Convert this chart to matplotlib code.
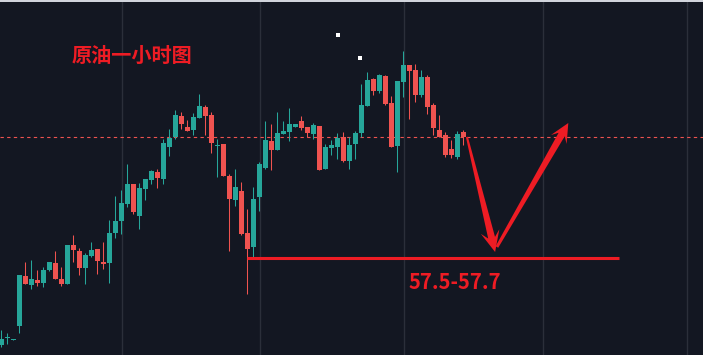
import numpy as np
import matplotlib
matplotlib.use('Agg')
import matplotlib.pyplot as plt
from matplotlib.patches import Polygon, Rectangle
from matplotlib.transforms import IdentityTransform

# 1h crude oil candles (prices)
opens = [56.73, 56.80, 56.78, 56.92, 57.42, 57.33, 57.38, 57.35, 57.48, 57.55,
         57.39, 57.34, 57.73, 57.67, 57.50, 57.62, 57.69, 57.56, 57.55, 57.85,
         57.97, 58.14, 58.34, 58.02, 58.29, 58.38, 58.46, 58.39, 58.71, 58.81,
         59.02, 58.91, 58.88, 59.00, 59.11, 59.03, 58.72, 58.74, 58.42, 58.18,
         58.27, 57.85, 57.71, 58.21, 58.50, 58.77, 58.68, 58.84, 58.86, 58.91,
         58.97, 58.91, 58.84, 58.92, 58.49, 58.70, 58.71, 58.81, 58.57, 58.74,
         58.85, 59.12, 59.39, 59.27, 59.42, 59.15, 58.72, 59.36, 59.53, 59.48,
         59.23, 59.41, 59.13, 58.88, 58.83, 58.69, 58.61, 58.86]
closes = [56.79, 56.80, 56.79, 57.43, 57.34, 57.39, 57.35, 57.48, 57.56, 57.39,
          57.34, 57.73, 57.68, 57.50, 57.63, 57.68, 57.57, 57.54, 57.85, 57.97,
          58.15, 58.34, 58.06, 58.30, 58.39, 58.47, 58.40, 58.75, 58.80, 59.03,
          58.94, 58.87, 59.01, 59.12, 59.02, 58.75, 58.73, 58.42, 58.19, 58.31,
          57.84, 57.69, 58.19, 58.54, 58.78, 58.68, 58.85, 58.87, 58.94, 58.94,
          58.90, 58.85, 58.93, 58.48, 58.71, 58.73, 58.80, 58.57, 58.73, 58.85,
          59.13, 59.38, 59.27, 59.43, 59.14, 58.71, 59.37, 59.53, 59.47, 59.23,
          59.41, 59.11, 58.90, 58.81, 58.63, 58.63, 58.84, 58.81]
highs = [56.88, 56.85, 56.79, 57.43, 57.56, 57.58, 57.48, 57.51, 57.56, 57.67,
         57.51, 57.73, 57.83, 57.70, 57.65, 57.76, 57.69, 57.76, 57.98, 58.22,
         58.28, 58.54, 58.34, 58.35, 58.39, 58.48, 58.49, 58.79, 58.89, 59.08,
         59.06, 58.98, 59.05, 59.24, 59.13, 59.06, 58.79, 58.74, 58.44, 58.49,
         58.36, 58.09, 58.31, 58.56, 58.97, 58.94, 59.06, 58.97, 59.10, 58.94,
         59.02, 58.91, 58.95, 58.92, 58.74, 58.78, 58.85, 58.86, 58.81, 58.87,
         59.34, 59.46, 59.40, 59.44, 59.43, 59.22, 59.37, 59.67, 59.53, 59.54,
         59.48, 59.43, 59.15, 59.03, 58.86, 58.78, 58.87, 58.88]
lows = [56.71, 56.74, 56.78, 56.85, 57.34, 57.29, 57.32, 57.31, 57.47, 57.39,
        57.32, 57.34, 57.56, 57.43, 57.34, 57.61, 57.44, 57.49, 57.35, 57.80,
        57.84, 58.11, 58.04, 57.89, 58.18, 58.34, 58.30, 58.34, 58.62, 58.79,
        58.89, 58.87, 58.83, 59.00, 58.83, 58.65, 58.41, 58.42, 57.67, 58.12,
        57.83, 57.24, 57.61, 58.07, 58.49, 58.48, 58.68, 58.84, 58.77, 58.91,
        58.88, 58.81, 58.79, 58.48, 58.49, 58.63, 58.59, 58.56, 58.49, 58.59,
        58.81, 59.12, 59.23, 59.25, 59.13, 58.71, 58.46, 59.21, 58.99, 59.16,
        59.21, 59.04, 58.83, 58.81, 58.61, 58.60, 58.59, 58.73]

# annotations
title = '原油一小时图'
target_label = '57.5-57.7'
target_price = 57.6
target_from, target_to = 41, 103
day_breaks = [20.1, 43.1, 67.1, 90.3, 114.3]
dots_x = [56.1, 59.8]
dots_y = [59.83, 59.60]

bg = '#131722'
up, down = '#26a69a', '#ef5350'
mark = '#ee1c24'

fig = plt.figure(figsize=(7.03, 3.55), dpi=100, facecolor=bg)
ax = fig.add_axes([0, 0, 1, 1])
ax.set_facecolor(bg)
ax.set_xlim(-0.22, 116.95)
ax.set_ylim(56.63, 60.18)
ax.axis('off')

for xx in day_breaks:
    ax.axvline(xx, color='#2b2f3a', lw=1, zorder=0)

x = np.arange(len(opens))
o = np.array(opens)
c = np.array(closes)
cols = [up if cc >= oo else down for oo, cc in zip(o, c)]
bottoms = np.minimum(o, c)
heights = np.maximum(np.abs(c - o), 0.012)

ax.vlines(x, lows, highs, colors=cols, linewidth=0.75, zorder=2)
ax.bar(x, heights, bottom=bottoms, width=0.8, color=cols, linewidth=0, zorder=3)

# last price line
ax.axhline(closes[-1], color=down, lw=0.8, linestyle=(0, (3, 3)), zorder=1)

# support zone
ax.hlines(target_price, target_from, target_to, color=mark, lw=2.2, zorder=4)
ax.text(67.8, 57.35, target_label, fontsize=14.6, fontweight='bold', color=mark,
        family=['Noto Sans CJK SC', 'DejaVu Sans'], ha='left', va='center')

ax.text(11.7, 59.63, title, fontsize=14.5, fontweight='bold', color=mark,
        family=['Noto Sans CJK SC', 'DejaVu Sans'], ha='left', va='center')

ax.plot(dots_x, dots_y, 's', color='white', ms=2.5, mew=0)


def tapered_arrow(start, end, w0, w1, head_len, head_w, color):
    p0 = ax.transData.transform(start)
    p1 = ax.transData.transform(end)
    d = p1 - p0
    u = d / np.hypot(*d)
    n = np.array([-u[1], u[0]])
    notch = p1 - u * head_len * 0.7
    base = p1 - u * head_len
    pts = [p0 + n * w0 / 2, notch + n * w1 / 2, base + n * head_w / 2, p1,
           base - n * head_w / 2, notch - n * w1 / 2, p0 - n * w0 / 2]
    fig.add_artist(Polygon(pts, closed=True, transform=IdentityTransform(),
                           facecolor=color, edgecolor='none', zorder=5))


tapered_arrow((77.6, 58.81), (82.3, 57.66), 2, 7, 21, 19, mark)
tapered_arrow((82.6, 57.71), (94.5, 58.95), 3, 7, 19, 18, mark)

# thin light strip on top
fig.add_artist(Rectangle((0, 1 - 2 / 355), 1, 2 / 355, transform=fig.transFigure,
                         facecolor='#d1d4dc', edgecolor='none'))

fig.savefig('out.png', dpi=100, facecolor=bg)
